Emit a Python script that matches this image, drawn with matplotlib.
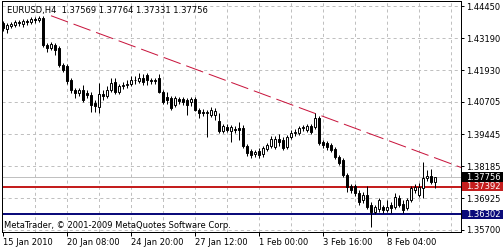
import matplotlib
matplotlib.use('Agg')
import matplotlib.pyplot as plt
import matplotlib.transforms as mtransforms
from matplotlib.patches import Rectangle
import numpy as np

plt.rcParams['font.family'] = ['DejaVu Sans']
plt.rcParams['lines.scale_dashes'] = False

# ---- data (EURUSD H4 candles) ----
opens = [1.4379, 1.4355, 1.4367, 1.4371, 1.4382, 1.4375, 1.4386, 1.4382, 1.4394, 1.4390,
         1.4398, 1.4293, 1.4281, 1.4293, 1.4281, 1.4214, 1.4210, 1.4156, 1.4117, 1.4105,
         1.4117, 1.4105, 1.4097, 1.4066, 1.4050, 1.4101, 1.4093, 1.4117, 1.4148, 1.4109,
         1.4132, 1.4136, 1.4140, 1.4156, 1.4152, 1.4163, 1.4175, 1.4156, 1.4152, 1.4163,
         1.4109, 1.4089, 1.4085, 1.4058, 1.4081, 1.4081, 1.4077, 1.4070, 1.4081, 1.4038,
         1.4031, 1.4027, 1.4019, 1.4019, 1.3995, 1.3956, 1.3972, 1.3956, 1.3964, 1.3968,
         1.3968, 1.3898, 1.3878, 1.3866, 1.3878, 1.3866, 1.3886, 1.3898, 1.3894, 1.3925,
         1.3921, 1.3894, 1.3933, 1.3949, 1.3949, 1.3968, 1.3960, 1.3976, 1.3972, 1.4007,
         1.3913, 1.3909, 1.3902, 1.3886, 1.3855, 1.3843, 1.3784, 1.3741, 1.3741, 1.3714,
         1.3686, 1.3706, 1.3667, 1.3640, 1.3651, 1.3659, 1.3647, 1.3667, 1.3659, 1.3694,
         1.3671, 1.3655, 1.3686, 1.3726, 1.3706, 1.3733, 1.3772, 1.3780, 1.37569]
highs = [1.4386, 1.4379, 1.4382, 1.4390, 1.4390, 1.4394, 1.4394, 1.4402, 1.4402, 1.4406,
         1.4406, 1.4300, 1.4304, 1.4300, 1.4289, 1.4222, 1.4218, 1.4163, 1.4124, 1.4124,
         1.4136, 1.4117, 1.4109, 1.4077, 1.4144, 1.4117, 1.4132, 1.4163, 1.4163, 1.4140,
         1.4148, 1.4156, 1.4171, 1.4171, 1.4183, 1.4179, 1.4183, 1.4163, 1.4163, 1.4179,
         1.4117, 1.4109, 1.4093, 1.4093, 1.4089, 1.4089, 1.4085, 1.4089, 1.4089, 1.4046,
         1.4042, 1.4038, 1.4050, 1.4046, 1.4027, 1.3984, 1.3984, 1.3980, 1.3976, 1.3991,
         1.3980, 1.3906, 1.3886, 1.3882, 1.3890, 1.3898, 1.3909, 1.3937, 1.3937, 1.3945,
         1.3933, 1.3941, 1.3960, 1.3964, 1.3976, 1.3980, 1.3984, 1.3984, 1.4027, 1.4015,
         1.3921, 1.3917, 1.3909, 1.3894, 1.3863, 1.3851, 1.3792, 1.3749, 1.3749, 1.3726,
         1.3718, 1.3741, 1.3679, 1.3667, 1.3694, 1.3667, 1.3686, 1.3679, 1.3714, 1.3706,
         1.3686, 1.3694, 1.3741, 1.3749, 1.3753, 1.3835, 1.3803, 1.3807, 1.37764]
lows = [1.4347, 1.4339, 1.4359, 1.4363, 1.4367, 1.4363, 1.4371, 1.4375, 1.4379, 1.4382,
        1.4285, 1.4265, 1.4273, 1.4253, 1.4206, 1.4187, 1.4140, 1.4105, 1.4085, 1.4093,
        1.4070, 1.4085, 1.4031, 1.4031, 1.4027, 1.4077, 1.4085, 1.4109, 1.4101, 1.4101,
        1.4120, 1.4124, 1.4132, 1.4140, 1.4144, 1.4136, 1.4136, 1.4140, 1.4140, 1.4105,
        1.4062, 1.4062, 1.4038, 1.4050, 1.4062, 1.4058, 1.4019, 1.4054, 1.4034, 1.4007,
        1.4015, 1.3933, 1.4011, 1.3999, 1.3948, 1.3948, 1.3952, 1.3913, 1.3948, 1.3921,
        1.3890, 1.3859, 1.3851, 1.3855, 1.3851, 1.3855, 1.3878, 1.3890, 1.3886, 1.3898,
        1.3882, 1.3886, 1.3925, 1.3937, 1.3941, 1.3956, 1.3952, 1.3945, 1.3964, 1.3902,
        1.3890, 1.3882, 1.3874, 1.3847, 1.3824, 1.3776, 1.3718, 1.3714, 1.3702, 1.3667,
        1.3675, 1.3651, 1.3581, 1.3632, 1.3640, 1.3636, 1.3640, 1.3636, 1.3651, 1.3659,
        1.3636, 1.3647, 1.3679, 1.3714, 1.3698, 1.3694, 1.3760, 1.3749, 1.37331]
closes = [1.4359, 1.4371, 1.4375, 1.4382, 1.4379, 1.4386, 1.4382, 1.4394, 1.4390, 1.4398,
          1.4293, 1.4281, 1.4296, 1.4273, 1.4214, 1.4195, 1.4152, 1.4117, 1.4105, 1.4117,
          1.4077, 1.4097, 1.4058, 1.4054, 1.4101, 1.4093, 1.4117, 1.4144, 1.4109, 1.4132,
          1.4136, 1.4140, 1.4156, 1.4154, 1.4163, 1.4148, 1.4156, 1.4152, 1.4156, 1.4109,
          1.4070, 1.4077, 1.4046, 1.4085, 1.4074, 1.4070, 1.4058, 1.4081, 1.4038, 1.4027,
          1.4027, 1.4031, 1.4038, 1.4034, 1.3956, 1.3976, 1.3960, 1.3972, 1.3960, 1.3960,
          1.3898, 1.3870, 1.3863, 1.3874, 1.3863, 1.3890, 1.3902, 1.3925, 1.3925, 1.3913,
          1.3890, 1.3933, 1.3949, 1.3952, 1.3968, 1.3972, 1.3976, 1.3952, 1.4007, 1.3909,
          1.3902, 1.3894, 1.3882, 1.3855, 1.3831, 1.3784, 1.3737, 1.3726, 1.3714, 1.3679,
          1.3706, 1.3659, 1.3640, 1.3659, 1.3686, 1.3647, 1.3659, 1.3655, 1.3698, 1.3667,
          1.3647, 1.3686, 1.3733, 1.3737, 1.3737, 1.3772, 1.3780, 1.3757, 1.37756]

x_tick_bars = [0, 16, 32, 48, 64, 80, 96]
x_tick_labels = ["15 Jan 2010", "20 Jan 08:00", "24 Jan 20:00", "27 Jan 12:00",
                 "1 Feb 00:00", "3 Feb 16:00", "8 Feb 04:00"]
y_ticks = [1.44450, 1.43190, 1.41930, 1.40705, 1.39445, 1.38185, 1.36925, 1.35700]
trend_bars = [12, 78]
trend_prices = [1.4407, 1.4025]
h_levels = [1.37392, 1.36302]
h_colors = ['#c41e1e', '#0b0b7a']
header = "EURUSD,H4  1.37569 1.37764 1.37331 1.37756"
copyright_text = "MetaTrader, \u00a9 2001-2009 MetaQuotes Software Corp."

# ---- figure ----
W, H = 503, 250
fig = plt.figure(figsize=(W / 100, H / 100), dpi=100)
fig.patch.set_facecolor('white')
ax = fig.add_axes([2 / W, 1 - 232 / H, 459 / W, 231 / H])
ax.set_facecolor('white')

n = len(closes)
xs = np.arange(n)
ax.set_xlim(-0.25, 114.5)
ax.set_ylim(1.35613, 1.44646)

PX = 0.72  # one pixel in points
grid_kw = dict(color='#c0c0c0', lw=PX, dashes=(2.2, 2.2), zorder=0)
for gx in range(8, 115, 8):
    ax.axvline(gx, **grid_kw)
for gy in y_ticks:
    ax.axhline(gy, **grid_kw)

# bid line
ax.axhline(closes[-1], color='#c0c0c0', lw=PX, zorder=1)

# horizontal levels
for lv, c in zip(h_levels, h_colors):
    ax.axhline(lv, color=c, lw=2 * PX, zorder=2)

# trend line (ray)
slope = (trend_prices[1] - trend_prices[0]) / (trend_bars[1] - trend_bars[0])
tx = np.array([trend_bars[0], 120])
ty = trend_prices[0] + slope * (tx - trend_bars[0])
ax.plot(tx, ty, color='#c8143c', lw=PX, dashes=(13, 4.3), zorder=2)

# candles
o = np.array(opens); c = np.array(closes); hi = np.array(highs); lo = np.array(lows)
ax.vlines(xs, lo, hi, color='black', lw=PX, zorder=3)
bull = c >= o
body_h = np.maximum(np.abs(c - o), 0.00005)
ax.bar(xs, body_h, bottom=np.minimum(o, c), width=0.55,
       color=np.where(bull, 'white', 'black'), edgecolor='black',
       linewidth=0.7, zorder=4)

# axes styling
for s in ax.spines.values():
    s.set_color('black'); s.set_linewidth(PX)
ax.set_xticks(x_tick_bars)
ax.set_xticklabels(x_tick_labels, fontsize=6)
for lbl in ax.get_xticklabels():
    lbl.set_horizontalalignment('left')
ax.tick_params(axis='x', length=3, width=PX, pad=1.5, direction='out')
ax.yaxis.tick_right()
ax.set_yticks(y_ticks)
ax.set_yticklabels([f"{v:.5f}" for v in y_ticks], fontsize=6)
ax.tick_params(axis='y', length=2.5, width=PX, pad=1.5, direction='out')

# highlighted price labels on right axis
blend = mtransforms.blended_transform_factory(fig.transFigure, ax.transData)
box_h = 0.0038
for val, col in [(closes[-1], 'black')] + list(zip(h_levels, h_colors)):
    rect = Rectangle((462 / W, val - box_h / 2), 41 / W, box_h, transform=blend,
                     facecolor=col, edgecolor='none', clip_on=False, zorder=10)
    fig.add_artist(rect)
    fig.text(466.5 / W, val, f"{val:.5f}", transform=blend, color='white',
             fontsize=6, va='center', ha='left', zorder=11)

fig.text(7 / W, 1 - 10 / H, header, fontsize=6, va='center', ha='left')
fig.text(4 / W, 1 - 225 / H, copyright_text, fontsize=6, va='center', ha='left')

fig.savefig('out.png', dpi=100, facecolor='white')
